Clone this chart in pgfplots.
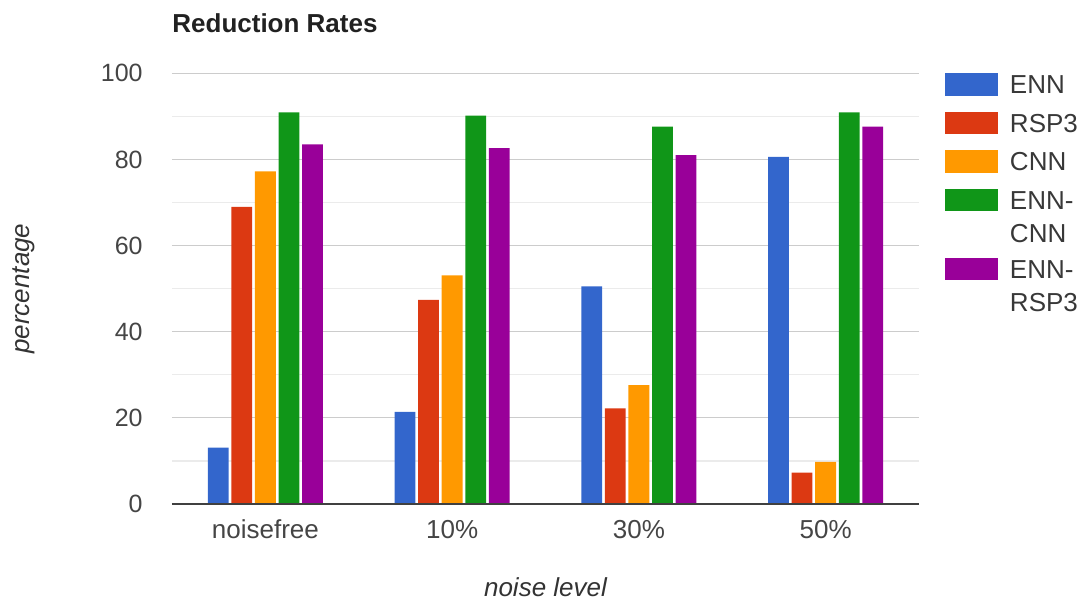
\documentclass[border=0pt]{standalone}
\usepackage{fontspec}
\setmainfont{Liberation Sans}
\usepackage{pgfplots}
\pgfplotsset{compat=1.18}
\definecolor{cENN}{HTML}{3366CC}
\definecolor{cRSP}{HTML}{DC3912}
\definecolor{cCNN}{HTML}{FF9900}
\definecolor{cEC}{HTML}{109618}
\definecolor{cER}{HTML}{990099}
\newcommand\two[2]{\vtop{\baselineskip=16.7pt\lineskiplimit=-\maxdimen\hbox{#1}\hbox{#2}}}
\begin{document}
\begin{tikzpicture}
\path[use as bounding box] (-86pt,-48pt) rectangle (455.5pt,252pt);
\begin{axis}[
  scale only axis, width=373.5pt, height=215.35pt,
  ybar=1.4pt, bar width=10.4pt,
  xmin=-0.5, xmax=3.5, ymin=0, ymax=100,
  xtick={0,1,2,3}, xticklabels={noisefree,10\%,30\%,50\%},
  ytick={0,20,...,100}, minor ytick={10,30,...,90},
  ymajorgrids, yminorgrids,
  major grid style={draw=black!20, line width=0.6pt},
  minor grid style={draw=black!8, line width=0.6pt},
  major tick length=0pt, minor tick length=0pt,
  axis line style={draw=none},
  /pgf/number format/assume math mode=true,
  yticklabel style={font=\fontsize{12.5}{15}\selectfont, text=black!73, anchor=east, inner sep=0pt, xshift=-14.5pt},
  xticklabel style={font=\fontsize{13}{15.6}\selectfont, text=black!73, anchor=base, inner sep=0pt, yshift=-17pt},
  xlabel={noise level},
  xlabel style={font=\itshape\fontsize{13}{15.6}\selectfont, text=black!80, at={(axis description cs:0.5,-0.2159)}, anchor=base, inner sep=0pt},
  ylabel={percentage},
  ylabel style={font=\itshape\fontsize{13}{15.6}\selectfont, text=black!80, at={(axis description cs:-0.1901,0.5)}, anchor=base, inner sep=0pt},
  title={Reduction Rates},
  title style={font=\bfseries\fontsize{13}{15.6}\selectfont, text=black!87, at={(axis description cs:0,1)}, anchor=base west, inner sep=0pt, yshift=14.4pt},
  legend style={at={(axis description cs:1.0348,1)}, anchor=north west, draw=none, fill=none, inner sep=0pt, outer sep=0pt, row sep=7.45pt,
    nodes={inner sep=0pt, font=\fontsize{13}{15.6}\selectfont, text=black!78},
    cells={anchor=base west},
    /tikz/every odd column/.append style={column sep=6pt}},
  legend image code/.code={\fill[#1] (0pt,-1pt) rectangle (26.5pt,10.3pt);},
]
\addplot[fill=cENN, draw=none] coordinates {(0,13.1) (1,21.4) (2,50.5) (3,80.6)};
\addlegendentry{ENN}
\addplot[fill=cRSP, draw=none] coordinates {(0,69.0) (1,47.4) (2,22.2) (3,7.3)};
\addlegendentry{RSP3}
\addplot[fill=cCNN, draw=none] coordinates {(0,77.2) (1,53.1) (2,27.6) (3,9.8)};
\addlegendentry{CNN}
\addplot[fill=cEC, draw=none] coordinates {(0,90.9) (1,90.2) (2,87.6) (3,90.9)};
\addlegendentry[text depth=16.7pt]{\two{ENN-}{CNN}}
\addplot[fill=cER, draw=none] coordinates {(0,83.5) (1,82.6) (2,81.0) (3,87.6)};
\addlegendentry[text depth=16.7pt]{\two{ENN-}{RSP3}}
\draw[black!75, line width=0.9pt] (rel axis cs:0,0) -- (rel axis cs:1,0);
\end{axis}
\end{tikzpicture}
\end{document}
